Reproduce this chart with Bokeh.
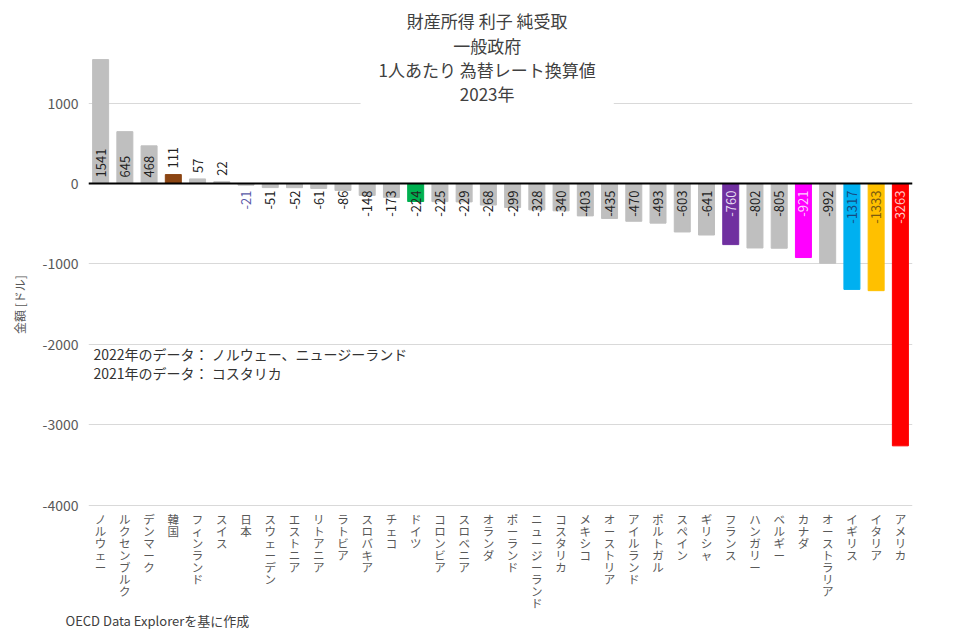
import numpy as np
from bokeh.plotting import figure
from bokeh.models import Range1d, FixedTicker, Label, ColumnDataSource, Span, Title
from bokeh.embed import file_html
from bokeh.resources import INLINE
from bokeh.core.properties import value

# ---------------- data ----------------
countries = ["ノルウェー", "ルクセンブルク", "デンマーク", "韓国", "フィンランド", "スイス", "日本",
             "スウェーデン", "エストニア", "リトアニア", "ラトビア", "スロバキア", "チェコ", "ドイツ",
             "コロンビア", "スロベニア", "オランダ", "ポーランド", "ニュージーランド", "コスタリカ",
             "メキシコ", "オーストリア", "アイルランド", "ポルトガル", "スペイン", "ギリシャ",
             "フランス", "ハンガリー", "ベルギー", "カナダ", "オーストラリア", "イギリス", "イタリア",
             "アメリカ"]
values = [1541, 645, 468, 111, 57, 22, -21,
          -51, -52, -61, -86, -148, -173, -224,
          -225, -229, -268, -299, -328, -340,
          -403, -435, -470, -493, -603, -641,
          -760, -802, -805, -921, -992, -1317, -1333,
          -3263]
title_lines = ["財産所得 利子 純受取", "一般政府", "1人あたり 為替レート換算値", "2023年"]
y_ticks = [-4000, -3000, -2000, -1000, 0, 1000]
y_label = "金額 [ドル]"
note_lines = ["2022年のデータ： ノルウェー、ニュージーランド", "2021年のデータ： コスタリカ"]
source_note = "OECD Data Explorerを基に作成"

# ---------------- styles ----------------
FONT = "Noto Sans CJK JP"
BASE_BAR = "#bfbfbf"
bar_colors = {"韓国": "#8b4513", "ドイツ": "#00b050", "フランス": "#7030a0", "カナダ": "#ff00ff",
              "イギリス": "#00b0f0", "イタリア": "#ffc000", "アメリカ": "#ff0000"}
lbl_colors = {"日本": "#5b5ba8", "フランス": "#e8ddf2", "カナダ": "#ffd0ff",
              "イギリス": "#154a80", "イタリア": "#7a5a10", "アメリカ": "#ffc8c8"}

xs = list(range(len(countries)))
colors = [bar_colors.get(c, BASE_BAR) for c in countries]
tcolors = [lbl_colors.get(c, "#222222") for c in countries]

y_bottom = min(y_ticks)
FRAME_H = 608
PX_PER_UNIT = 0.0804
Y_TOP = 2276
Y_BOT = Y_TOP - FRAME_H / PX_PER_UNIT
SHORT_BAR_PX = 12   # positive bars shorter than this get their label above the bar end

p = figure(frame_width=824, frame_height=FRAME_H, output_backend="svg", toolbar_location=None,
           x_range=Range1d(-0.5, len(countries) - 0.5), y_range=Range1d(Y_BOT, Y_TOP),
           min_border_left=88, min_border_right=48, min_border_top=0, min_border_bottom=0)
p.outline_line_color = None
p.background_fill_color = "white"
p.border_fill_color = "white"

src = ColumnDataSource(dict(x=xs, v=values, color=colors))
p.vbar(x="x", top="v", width=0.66, color="color", source=src)

zero = Span(location=0, dimension="width", line_color="black", line_width=2)
p.add_layout(zero)

pos = [i for i, v in enumerate(values) if v >= 0]
neg = [i for i, v in enumerate(values) if v < 0]
pos_anchor = [values[i] if values[i] * PX_PER_UNIT < SHORT_BAR_PX else 0 for i in pos]
src_pos = ColumnDataSource(dict(x=[xs[i] for i in pos], y=pos_anchor,
                                t=[str(values[i]) for i in pos], c=[tcolors[i] for i in pos]))
src_neg = ColumnDataSource(dict(x=[xs[i] for i in neg], y=[0] * len(neg),
                                t=[str(values[i]) for i in neg], c=[tcolors[i] for i in neg]))
p.text(x="x", y="y", text="t", source=src_pos, angle=np.pi / 2, text_align="left",
       text_baseline="middle", y_offset=-6, text_color="c", text_font_size="13px",
       text_font=value(FONT))
p.text(x="x", y="y", text="t", source=src_neg, angle=np.pi / 2, text_align="right",
       text_baseline="middle", y_offset=7, text_color="c", text_font_size="13px",
       text_font=value(FONT))

# category labels written vertically (one character per line)
src_cat = ColumnDataSource(dict(x=xs, y=[y_bottom] * len(xs),
                                t=["\n".join(list(c)) for c in countries]))
p.text(x="x", y="y", text="t", source=src_cat, text_align="center", text_baseline="top",
       y_offset=6, text_color="#595959", text_font_size="11.5px", text_line_height=0.75,
       text_font=value(FONT))

# axes
p.xaxis.visible = False
p.yaxis.ticker = FixedTicker(ticks=y_ticks)
p.yaxis.major_label_overrides = {t: str(t) for t in y_ticks}
p.yaxis.axis_line_color = None
p.yaxis.major_tick_line_color = None
p.yaxis.minor_tick_line_color = None
p.yaxis.major_label_text_font = FONT
p.yaxis.major_label_text_font_size = "14px"
p.yaxis.major_label_text_color = "#595959"
p.yaxis.major_label_standoff = 4
p.yaxis.axis_label = y_label
p.yaxis.axis_label_text_font = FONT
p.yaxis.axis_label_text_font_size = "12px"
p.yaxis.axis_label_text_font_style = "normal"
p.yaxis.axis_label_text_color = "#595959"
p.yaxis.axis_label_standoff = 12

p.xgrid.grid_line_color = None
p.ygrid.ticker = FixedTicker(ticks=y_ticks)
p.ygrid.grid_line_color = "#d9d9d9"
p.ygrid.grid_line_width = 1

# title with white box
title = Label(x=15.95, y=2229, text="\n".join(title_lines), text_align="center",
              text_baseline="top", text_font=FONT, text_font_size="17px",
              text_line_height=0.97, text_color="#404040",
              background_fill_color="white",
              padding=dict(left=18, right=18, top=4, bottom=6))
p.add_layout(title)

note = Label(x=-0.5, y=-2000, x_offset=5, text="\n".join(note_lines), text_align="left",
             text_baseline="top", text_font=FONT, text_font_size="14px",
             text_line_height=0.95, text_color="#333333")
p.add_layout(note)

footer = Title(text=source_note, align="left", offset=-23, text_font=FONT,
               text_font_size="13px", text_font_style="normal", text_color="#404040",
               standoff=0)
p.add_layout(footer, "below")

open("out.html", "w").write(file_html(p, INLINE))
